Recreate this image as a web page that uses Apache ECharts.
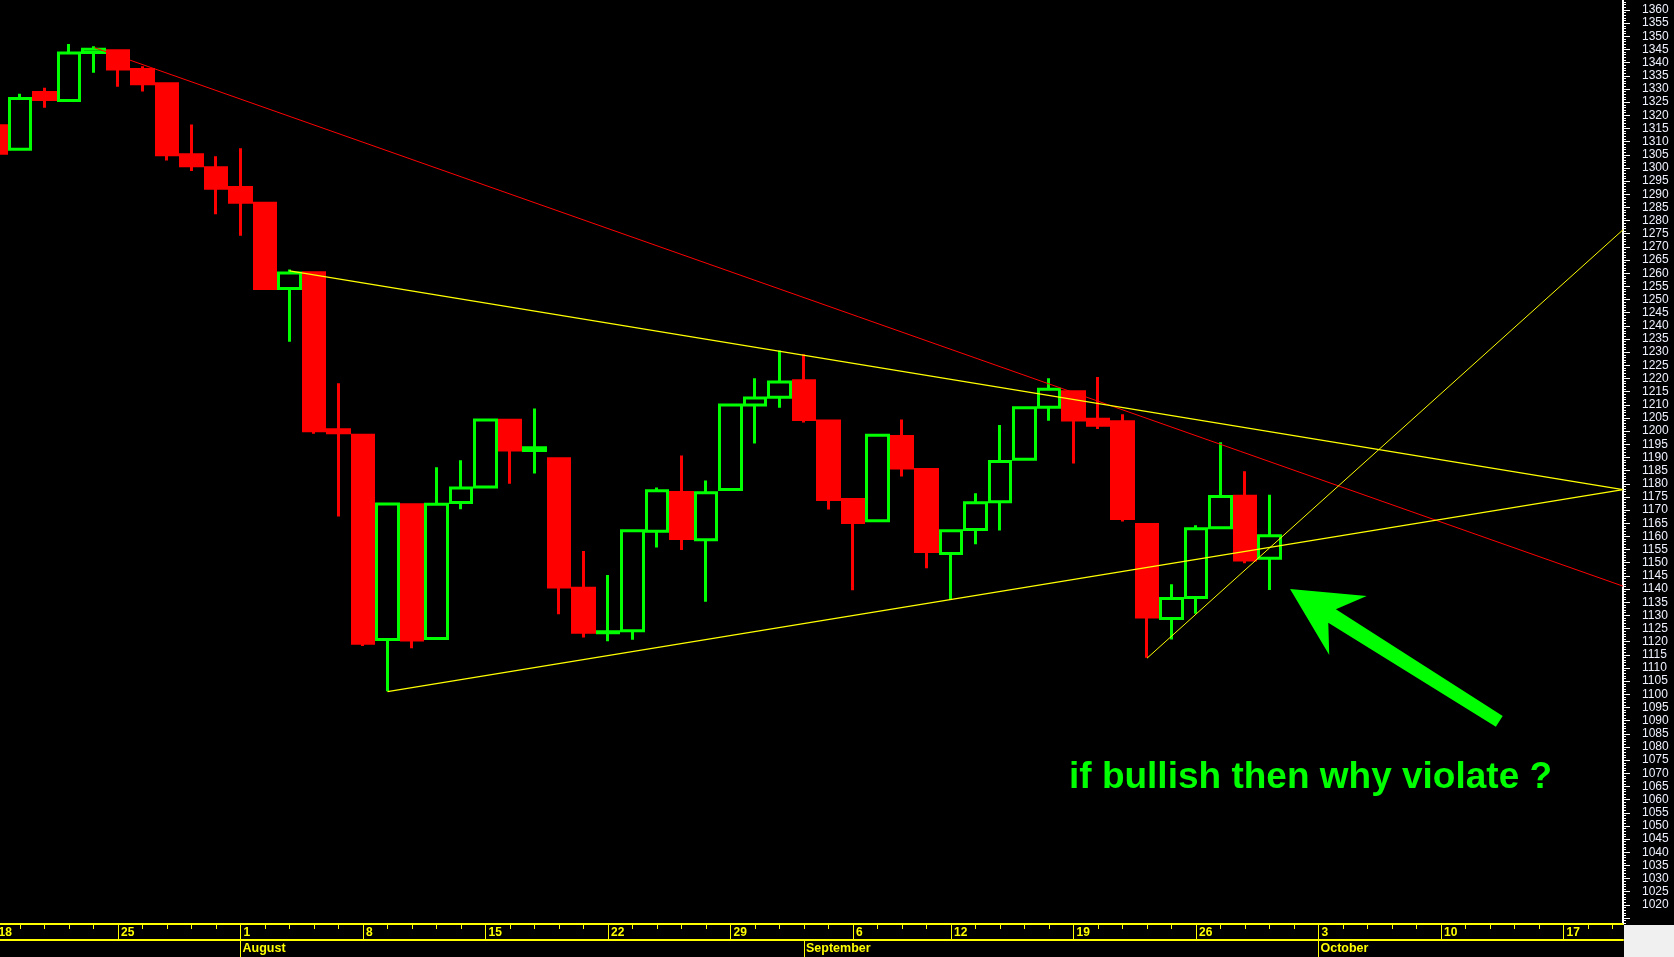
<!DOCTYPE html>
<html>
<head>
<meta charset="utf-8">
<script src="https://cdn.jsdelivr.net/npm/echarts@6/dist/echarts.min.js"></script>
<style>
html,body{margin:0;padding:0;background:#000;overflow:hidden}
#c{width:1674px;height:957px}
</style>
</head>
<body>
<div id="c"></div>
<script>
// ---------- DATA ----------
const tradingDays = [
  '2011-07-18','2011-07-19','2011-07-20','2011-07-21','2011-07-22',
  '2011-07-25','2011-07-26','2011-07-27','2011-07-28','2011-07-29',
  '2011-08-01','2011-08-02','2011-08-03','2011-08-04','2011-08-05',
  '2011-08-08','2011-08-09','2011-08-10','2011-08-11','2011-08-12',
  '2011-08-15','2011-08-16','2011-08-17','2011-08-18','2011-08-19',
  '2011-08-22','2011-08-23','2011-08-24','2011-08-25','2011-08-26',
  '2011-08-29','2011-08-30','2011-08-31','2011-09-01','2011-09-02',
  '2011-09-06','2011-09-07','2011-09-08','2011-09-09',
  '2011-09-12','2011-09-13','2011-09-14','2011-09-15','2011-09-16',
  '2011-09-19','2011-09-20','2011-09-21','2011-09-22','2011-09-23',
  '2011-09-26','2011-09-27','2011-09-28','2011-09-29','2011-09-30',
  '2011-10-03','2011-10-04','2011-10-05','2011-10-06','2011-10-07',
  '2011-10-10','2011-10-11','2011-10-12','2011-10-13','2011-10-14',
  '2011-10-17','2011-10-18','2011-10-19'
];
const openPrices = [
  1316.0,1307.1,1328.7,1325.6,1343.9,
  1344.5,1337.4,1332.0,1305.0,1300.1,
  1292.6,1286.6,1254.2,1260.2,1200.5,
  1198.4,1120.8,1172.0,1121.2,1172.9,
  1178.8,1204.1,1192.6,1189.5,1140.3,
  1123.4,1124.2,1162.0,1176.7,1158.7,
  1177.8,1209.9,1212.9,1219.1,1203.8,
  1174.0,1165.9,1198.0,1185.4,
  1153.5,1162.6,1173.2,1189.3,1209.1,
  1215.0,1204.5,1203.6,1164.5,1128.8,
  1136.8,1163.3,1175.3,1151.7
];
const closePrices = [
  1305.6,1326.4,1326.0,1343.7,1345.1,
  1337.6,1332.0,1305.0,1300.8,1292.3,
  1287.0,1254.2,1260.1,1200.1,1199.4,
  1119.4,1172.3,1120.6,1172.2,1178.4,
  1204.2,1192.8,1193.7,1140.8,1123.6,
  1123.8,1162.1,1177.3,1159.2,1176.6,
  1209.9,1212.6,1218.7,1204.4,1174.0,
  1165.3,1198.4,1186.0,1154.3,
  1162.1,1172.8,1188.5,1208.9,1215.9,
  1204.2,1202.2,1166.8,1129.4,1136.4,
  1162.9,1175.2,1151.0,1160.2
];
const lowPrices = [
  1296.0,1307.0,1322.9,1325.6,1336.2,
  1330.8,1329.0,1302.8,1298.8,1282.4,
  1274.2,1253.6,1234.0,1199.0,1167.6,
  1118.4,1101.2,1117.5,1121.2,1170.3,
  1178.8,1180.0,1183.9,1130.4,1121.6,
  1120.2,1120.7,1155.8,1154.8,1135.2,
  1177.8,1195.3,1208.9,1203.3,1170.2,
  1139.5,1165.9,1182.8,1147.9,
  1135.8,1157.0,1162.2,1189.3,1203.9,
  1187.7,1200.8,1165.7,1113.9,1120.8,
  1130.6,1163.3,1149.8,1139.6
];
const highPrices = [
  1316.0,1328.2,1330.5,1347.1,1346.2,
  1344.6,1338.6,1332.0,1316.5,1304.4,
  1307.5,1286.6,1261.4,1260.2,1218.2,
  1198.4,1172.5,1172.0,1186.3,1188.9,
  1204.4,1204.2,1208.6,1189.6,1154.5,
  1145.3,1162.4,1178.6,1190.7,1181.2,
  1210.1,1220.1,1230.6,1229.2,1203.9,
  1174.0,1198.6,1204.4,1185.4,
  1162.5,1176.4,1202.3,1209.1,1220.1,
  1215.0,1220.6,1206.4,1164.6,1141.8,
  1164.2,1195.8,1184.8,1175.8
];

// tick labels
const dayTickIdx    = [0,5,10,15,20,25,30,35,39,44,49,54,59,64];
const dayTickLabels = ['18','25','1','8','15','22','29','6','12','19','26','3','10','17'];
const monthTickIdx    = [10,33,54];
const monthTickLabels = ['August','September','October'];

// trend lines [dayIndex, price]
const redTrend        = [[4.04,1345.7],[66.43,1141.1]];
const upperYellow     = [[12,1260.9],[66.43,1177.8]];
const lowerYellow     = [[16,1101.0],[66.43,1177.8]];
const diagonalYellow  = [[47,1113.7],[66.43,1276.5]];

// annotation arrow outline [dayIndex, price]
const arrowOutline = [
  [52.84,1140.0],[55.97,1137.4],[54.71,1132.3],[61.52,1091.8],
  [61.24,1087.7],[54.40,1127.2],[54.44,1114.9]
];
const noteText = 'if bullish then why violate ?';

// ---------- LAYOUT ----------
const X_MIN = 0, X_MAX = 66.43;
const Y_MIN = 1010, Y_MAX = 1365;
const PLOT_LEFT = -4.5, PLOT_WIDTH = 1627.5;
const PX_PER_PT = 2.632;
const Y_TOP = 10 - (Y_MAX - 1360) * PX_PER_PT;
const Y_HEIGHT = (Y_MAX - Y_MIN) * PX_PER_PT;

const candleData = openPrices.map((o, i) => [i, o, closePrices[i], lowPrices[i], highPrices[i]]);
const allDayIdx = tradingDays.map((d, i) => i);

const bandFont = "'Liberation Sans', Arial, sans-serif";
const YEL = '#ffff00';

const chart = echarts.init(document.getElementById('c'), null, {renderer: 'canvas'});

function trend(data, color, width) {
  return {
    type: 'line', xAxisIndex: 0, yAxisIndex: 0, data: data,
    symbol: 'none', showSymbol: false, silent: true, clip: true, z: 3,
    lineStyle: {color: color, width: width}, animation: false
  };
}

chart.setOption({
  backgroundColor: '#000000',
  animation: false,
  grid: [
    {left: PLOT_LEFT, top: Y_TOP, width: PLOT_WIDTH, height: Y_HEIGHT, containLabel: false, outerBoundsMode: 'none'},
    {left: PLOT_LEFT, top: 924, width: PLOT_WIDTH, height: 16, containLabel: false, outerBoundsMode: 'none'},
    {left: PLOT_LEFT, top: 940, width: PLOT_WIDTH, height: 17, containLabel: false, outerBoundsMode: 'none'}
  ],
  xAxis: [
    {type: 'value', gridIndex: 0, min: X_MIN, max: X_MAX, show: false, axisLine: {onZero: false}},
    {
      type: 'value', gridIndex: 1, position: 'top', min: X_MIN, max: X_MAX,
      axisLine: {show: true, onZero: false, lineStyle: {color: YEL, width: 2}},
      axisTick: {show: true, inside: true, length: 5, customValues: allDayIdx, lineStyle: {color: YEL, width: 1}},
      axisLabel: {show: false},
      splitLine: {show: false}
    },
    {
      type: 'value', gridIndex: 1, position: 'bottom', min: X_MIN, max: X_MAX,
      axisLine: {show: true, onZero: false, lineStyle: {color: YEL, width: 2}},
      axisTick: {show: true, inside: true, length: 16, customValues: dayTickIdx, lineStyle: {color: YEL, width: 1}},
      axisLabel: {
        show: true, inside: true, customValues: dayTickIdx, margin: 7.5,
        formatter: v => { const k = dayTickIdx.indexOf(v); return k >= 0 ? dayTickLabels[k] : ''; },
        color: YEL, fontFamily: bandFont, fontWeight: 'bold', fontSize: 12,
        align: 'left', verticalAlign: 'middle', padding: [0, 0, 0, 3]
      },
      splitLine: {show: false}
    },
    {
      type: 'value', gridIndex: 2, position: 'bottom', min: X_MIN, max: X_MAX,
      axisLine: {show: false, onZero: false},
      axisTick: {show: true, inside: true, length: 17, customValues: monthTickIdx, lineStyle: {color: YEL, width: 1}},
      axisLabel: {
        show: true, inside: true, customValues: monthTickIdx, margin: 8.5,
        formatter: v => { const k = monthTickIdx.indexOf(v); return k >= 0 ? monthTickLabels[k] : ''; },
        color: YEL, fontFamily: bandFont, fontWeight: 'bold', fontSize: 12.5,
        align: 'left', verticalAlign: 'middle', padding: [0, 0, 0, 2]
      },
      splitLine: {show: false}
    }
  ],
  yAxis: [
    {
      type: 'value', gridIndex: 0, position: 'right', min: Y_MIN, max: Y_MAX, interval: 5,
      axisLine: {show: true, onZero: false, lineStyle: {color: '#ffffff', width: 2}},
      axisTick: {show: true, length: 7, lineStyle: {color: '#ffffff', width: 1}},
      minorTick: {show: true, splitNumber: 5, length: 3, lineStyle: {color: '#ffffff', width: 1}},
      axisLabel: {
        show: true, margin: 19, color: '#eef2ff', fontSize: 12,
        fontFamily: "'Liberation Sans', Arial, sans-serif",
        formatter: v => (v < 1020 ? '' : String(v)), padding: [4, 0, 0, 0]
      },
      splitLine: {show: false}
    },
    {type: 'value', gridIndex: 1, min: 0, max: 1, show: false, axisLine: {onZero: false}},
    {type: 'value', gridIndex: 2, min: 0, max: 1, show: false, axisLine: {onZero: false}}
  ],
  series: [
    {
      type: 'candlestick', xAxisIndex: 0, yAxisIndex: 0,
      dimensions: ['idx', 'open', 'close', 'lowest', 'highest'],
      encode: {x: 0, y: [1, 2, 3, 4]},
      data: candleData,
      barWidth: 22,
      clip: true, z: 2,
      itemStyle: {
        color: 'rgba(0,0,0,0)', color0: '#ff0000',
        borderColor: '#00ff00', borderColor0: '#ff0000', borderWidth: 3
      }
    },
    trend(redTrend, '#ff0000', 1),
    trend(upperYellow, YEL, 1.3),
    trend(lowerYellow, YEL, 1.3),
    trend(diagonalYellow, YEL, 1),
    {
      type: 'custom', xAxisIndex: 0, yAxisIndex: 0, silent: true, z: 5,
      data: [arrowOutline[0]],
      renderItem: (params, api) => ({
        type: 'polygon',
        shape: {points: arrowOutline.map(p => api.coord(p))},
        style: {fill: '#00ff00'}
      })
    }
  ],
  graphic: [
    {
      type: 'text', x: 1069, y: 778, z: 50,
      style: {
        text: noteText, fill: '#00ff00',
        font: "bold 37px 'Liberation Sans', Arial, sans-serif",
        align: 'left', verticalAlign: 'middle'
      }
    },
    {type: 'rect', z: 100, shape: {x: 1619.5, y: 925, width: 4.5, height: 14}, style: {fill: '#000000'}},
    {type: 'rect', z: 100, shape: {x: 1624, y: 925, width: 50, height: 32}, style: {fill: '#f0f0f0'}}
  ]
});
</script>
</body>
</html>
